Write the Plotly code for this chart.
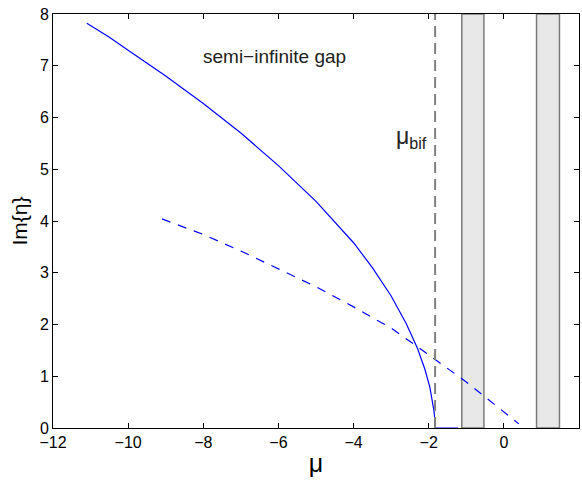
import plotly.graph_objects as go

# Solid branch (Im eta vs mu)
solid_mu = [-11.1, -10.5, -10.0, -9.0, -8.0, -7.0, -6.0, -5.0, -4.0, -3.5, -3.0, -2.6, -2.3, -2.1, -1.97, -1.9, -1.86, -1.84, -1.83, -1.22]
solid_im = [7.82, 7.55, 7.30, 6.80, 6.27, 5.70, 5.07, 4.38, 3.58, 3.10, 2.55, 2.02, 1.54, 1.13, 0.79, 0.53, 0.33, 0.18, 0.0, 0.0]

# Dashed branch
dash_mu = [-9.1, -8.0, -7.0, -6.0, -5.0, -4.0, -3.0, -2.28, -1.5, -1.0, -0.5, 0.0, 0.4]
dash_im = [4.04, 3.74, 3.42, 3.08, 2.73, 2.34, 1.93, 1.56, 1.16, 0.89, 0.60, 0.31, 0.08]

# Bifurcation point and Bloch bands
mu_bif = -1.83
bands = [(-1.12, -0.53), (0.87, 1.48)]

x_ticks = [-12, -10, -8, -6, -4, -2, 0, 2]
y_ticks = [0, 1, 2, 3, 4, 5, 6, 7, 8]

FONT = "Liberation Sans, Arial, Helvetica, sans-serif"

fig = go.Figure()

for (a, b) in bands:
    fig.add_shape(type="rect", x0=a, x1=b, y0=0, y1=8, xref="x", yref="y",
                  fillcolor="#e8e8e8", line=dict(color="#7a7a7a", width=1.5), layer="below")

fig.add_shape(type="line", x0=mu_bif, x1=mu_bif, y0=0, y1=8, xref="x", yref="y",
              line=dict(color="#808080", width=2, dash="11px,6px"))

fig.add_trace(go.Scatter(x=solid_mu, y=solid_im, mode="lines",
                         line=dict(color="#0000ff", width=1.2),
                         showlegend=False, hoverinfo="skip", cliponaxis=False))
fig.add_trace(go.Scatter(x=dash_mu, y=dash_im, mode="lines",
                         line=dict(color="#0000ff", width=1.2, dash="9px,8px"),
                         showlegend=False, hoverinfo="skip"))

fig.add_annotation(x=-6.1, y=7.18, text="semi\u2212infinite gap", showarrow=False,
                   font=dict(family=FONT, size=19, color="#222222"), xref="x", yref="y")
fig.add_annotation(x=-2.47, y=5.62, text="\u03bc<sub>bif</sub>", showarrow=False,
                   font=dict(family=FONT, size=23, color="#222222"), xref="x", yref="y")

axis_common = dict(showline=True, linecolor="black", linewidth=1, mirror="ticks",
                   ticks="inside", ticklen=5, tickwidth=1, tickcolor="black",
                   showgrid=False, zeroline=False, layer="below traces",
                   tickfont=dict(family=FONT, size=16, color="black"))

fig.update_xaxes(range=[-12, 2], tickvals=x_ticks,
                 ticktext=[("\u2212" + str(-v)) if v < 0 else str(v) for v in x_ticks],
                 title=dict(text="\u03bc", font=dict(family=FONT, size=25, color="black"), standoff=4),
                 **axis_common)
fig.update_yaxes(range=[0, 8], tickvals=y_ticks,
                 title=dict(text="Im{\u03b7}", font=dict(family=FONT, size=21, color="black"), standoff=6),
                 **axis_common)

fig.update_layout(width=582, height=481, margin=dict(l=53, r=3, t=14, b=53),
                  plot_bgcolor="white", paper_bgcolor="white")

fig.write_html("out.html", config={"displayModeBar": False})
